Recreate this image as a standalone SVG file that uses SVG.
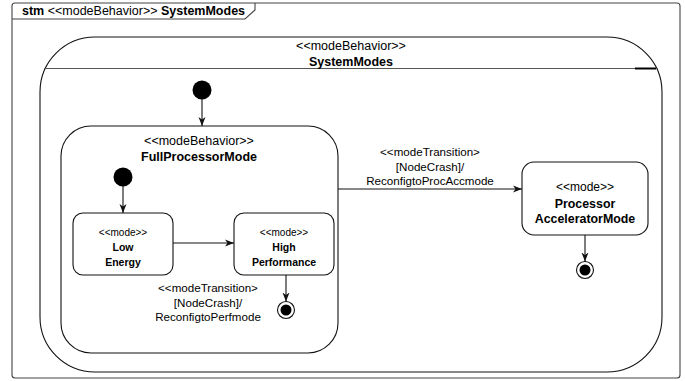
<svg xmlns="http://www.w3.org/2000/svg" width="685" height="381" viewBox="0 0 685 381">
<style>
text{font-family:"Liberation Sans",Arial,sans-serif;fill:#000;text-anchor:middle}
.b{font-weight:bold}
.st{fill:#fff;stroke:#111;stroke-width:1.1}
.ln{stroke:#111;stroke-width:1.1;fill:none}
.lbl{font-size:11.6px}
</style>
<defs>
<marker id="ah" markerWidth="10" markerHeight="8" refX="9" refY="4" orient="auto" markerUnits="userSpaceOnUse">
<path d="M0,0.5 L9,4 L0,7.5 L2.5,4 z" fill="#111"/>
</marker>
</defs>
<rect width="685" height="381" fill="#fff"/>
<g id="frame">
<rect x="12" y="3" width="668" height="375" rx="3" fill="none" stroke="#444" stroke-width="1.1"/>
<path d="M12,19 L245,19 L255,10 L255,3" fill="none" stroke="#444" stroke-width="1.1"/>
<text x="22" y="15" style="text-anchor:start;font-size:12.5px"><tspan class="b">stm</tspan> &lt;&lt;modeBehavior&gt;&gt; <tspan class="b">SystemModes</tspan></text>
</g>
<g id="SystemModes">
<rect x="40" y="37" width="622" height="335" rx="55" class="st"/>
<line x1="44" y1="68.5" x2="658" y2="68.5" stroke="#555" stroke-width="1"/>
<line x1="635" y1="68.5" x2="656" y2="68.5" stroke="#000" stroke-width="2"/>
<text x="351" y="49.5" style="font-size:12.5px">&lt;&lt;modeBehavior&gt;&gt;</text>
<text x="351" y="65.5" class="b" style="font-size:12.5px">SystemModes</text>
</g>
<g id="FullProcessorMode">
<rect x="61" y="126" width="277" height="227" rx="30" class="st"/>
<text x="199" y="144.5" style="font-size:12.5px">&lt;&lt;modeBehavior&gt;&gt;</text>
<text x="199" y="160.5" class="b" style="font-size:12.5px">FullProcessorMode</text>
</g>
<g id="init1"><circle cx="202" cy="90" r="9.5" fill="#000"/></g>
<g id="init2"><circle cx="123" cy="177" r="9.5" fill="#000"/></g>
<g id="LowEnergy">
<rect x="73" y="213" width="100" height="62" rx="10" class="st"/>
<text x="123" y="235.5" style="font-size:10px">&lt;&lt;mode&gt;&gt;</text>
<text x="123" y="251" class="b" style="font-size:10.5px">Low</text>
<text x="123" y="266" class="b" style="font-size:10.5px">Energy</text>
</g>
<g id="HighPerformance">
<rect x="234" y="213" width="100" height="62" rx="10" class="st"/>
<text x="284" y="235.5" style="font-size:10px">&lt;&lt;mode&gt;&gt;</text>
<text x="284" y="251" class="b" style="font-size:10.5px">High</text>
<text x="284" y="266" class="b" style="font-size:10.5px">Performance</text>
</g>
<g id="final1"><circle cx="286" cy="310" r="8.5" fill="#fff" stroke="#111" stroke-width="1.1"/><circle cx="286" cy="310" r="5.5" fill="#000"/></g>
<g id="ProcessorAcceleratorMode">
<rect x="522" y="162" width="126" height="73" rx="12" class="st"/>
<text x="585" y="191" style="font-size:12px">&lt;&lt;mode&gt;&gt;</text>
<text x="585" y="207.5" class="b" style="font-size:12.4px">Processor</text>
<text x="585" y="223" class="b" style="font-size:12.4px">AcceleratorMode</text>
</g>
<g id="final2"><circle cx="585" cy="270" r="8.5" fill="#fff" stroke="#111" stroke-width="1.1"/><circle cx="585" cy="270" r="5.5" fill="#000"/></g>
<g id="connectors">
<line x1="202" y1="99" x2="202" y2="126" class="ln" marker-end="url(#ah)"/>
<line x1="123" y1="186" x2="123" y2="213" class="ln" marker-end="url(#ah)"/>
<line x1="173" y1="243" x2="234" y2="243" class="ln" marker-end="url(#ah)"/>
<line x1="286" y1="275" x2="286" y2="301.5" class="ln" marker-end="url(#ah)"/>
<line x1="338" y1="189" x2="522" y2="189" class="ln" marker-end="url(#ah)"/>
<line x1="585" y1="235" x2="585" y2="261.5" class="ln" marker-end="url(#ah)"/>
<text x="208" y="292" class="lbl">&lt;&lt;modeTransition&gt;</text>
<text x="208" y="307" class="lbl">[NodeCrash]/</text>
<text x="208" y="321" class="lbl">ReconfigtoPerfmode</text>
<text x="430" y="156" class="lbl">&lt;&lt;modeTransition&gt;</text>
<text x="430" y="171" class="lbl">[NodeCrash]/</text>
<text x="430" y="185" class="lbl">ReconfigtoProcAccmode</text>
</g>
</svg>
